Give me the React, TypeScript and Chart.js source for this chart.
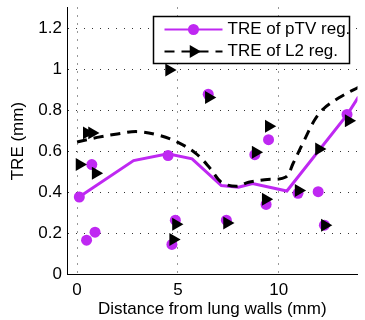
import React, { useEffect, useRef } from 'react';
import { Chart, registerables } from 'chart.js';

Chart.register(...registerables);

const PURPLE = 'rgb(191, 40, 242)';
const FONT = "'Liberation Sans', Arial, Helvetica, sans-serif";

// Line: TRE of pTV reg.
const pTVLineX = [0.1, 2.8, 4.5, 5.7, 7.15, 8.0, 8.7, 10.4, 13.4, 13.95];
const pTVLineY = [0.378, 0.555, 0.588, 0.564, 0.434, 0.426, 0.443, 0.407, 0.78, 0.865];

// Line: TRE of L2 reg. (smooth dashed)
const l2LineX = [0, 1, 2, 3, 4.1, 5, 5.9, 6.6, 7.15, 7.9, 8.5, 9.3, 10.35, 10.7, 11.25, 11.75, 12.2, 13.0, 13.95];
const l2LineY = [0.646, 0.668, 0.685, 0.696, 0.677, 0.644, 0.589, 0.517, 0.45, 0.43, 0.45, 0.462, 0.475, 0.54, 0.652, 0.749, 0.806, 0.862, 0.912];

// Scatter: pTV points
const pTVPtsX = [0.11, 0.73, 0.47, 0.89, 4.51, 4.87, 4.7, 6.5, 9.49, 8.81, 13.38, 9.37, 10.95, 11.95, 7.4, 12.26];
const pTVPtsY = [0.378, 0.536, 0.168, 0.207, 0.58, 0.265, 0.147, 0.878, 0.657, 0.584, 0.78, 0.342, 0.396, 0.404, 0.265, 0.241];

// Scatter: L2 points
const l2PtsX = [0.12, 0.92, 4.9, 4.76, 0.48, 0.74, 4.56, 6.53, 9.5, 8.85, 13.46, 11.99, 9.35, 10.98, 7.43, 12.28];
const l2PtsY = [0.536, 0.494, 0.245, 0.171, 0.69, 0.69, 0.996, 0.862, 0.722, 0.596, 0.749, 0.612, 0.367, 0.41, 0.252, 0.241];

const xTicks = [0, 5, 10];
const yTicks = [0, 0.2, 0.4, 0.6, 0.8, 1, 1.2];
const legendLabels = ['TRE of pTV reg.', 'TRE of L2 reg.'];

const zip = (xs: number[], ys: number[]) => xs.map((x, i) => ({ x, y: ys[i] }));

export default function App() {
  const ref = useRef<HTMLCanvasElement>(null);

  useEffect(() => {
    document.body.style.margin = '0';
    const legendPlugin = {
      id: 'boxLegend',
      afterDatasetsDraw(chart: any) {
        const ctx = chart.ctx as CanvasRenderingContext2D;
        const ca = chart.chartArea;
        const right = ca.right - 8;
        const left = right - 196;
        const top = ca.top + 9;
        const h = 47;
        ctx.save();
        ctx.fillStyle = '#fff';
        ctx.fillRect(left, top, right - left, h);
        const y1 = top + 13;
        const y2 = top + 35;
        const lx0 = left + 11;
        const lx1 = left + 69;
        const mx = left + 40;
        // row 1
        ctx.strokeStyle = PURPLE;
        ctx.lineWidth = 2;
        ctx.beginPath();
        ctx.moveTo(lx0, y1);
        ctx.lineTo(lx1, y1);
        ctx.stroke();
        ctx.fillStyle = PURPLE;
        ctx.beginPath();
        ctx.arc(mx, y1, 5.5, 0, Math.PI * 2);
        ctx.fill();
        // row 2
        ctx.strokeStyle = '#000';
        ctx.lineWidth = 2;
        ctx.setLineDash([10, 7]);
        ctx.beginPath();
        ctx.moveTo(lx0, y2);
        ctx.lineTo(lx1, y2);
        ctx.stroke();
        ctx.setLineDash([]);
        ctx.fillStyle = '#000';
        const r = 7.5;
        ctx.beginPath();
        ctx.moveTo(mx + r, y2);
        ctx.lineTo(mx - r / 2, y2 - r * Math.sqrt(3) / 2);
        ctx.lineTo(mx - r / 2, y2 + r * Math.sqrt(3) / 2);
        ctx.closePath();
        ctx.fill();
        // text (clipped by the box, as in the reference)
        ctx.save();
        ctx.beginPath();
        ctx.rect(left, top, right - left, h);
        ctx.clip();
        ctx.fillStyle = '#000';
        ctx.font = `17px ${FONT}`;
        ctx.textBaseline = 'middle';
        ctx.textAlign = 'left';
        ctx.fillText(legendLabels[0], left + 74, y1);
        ctx.fillText(legendLabels[1], left + 74, y2);
        ctx.restore();
        ctx.strokeStyle = '#000';
        ctx.lineWidth = 1.5;
        ctx.strokeRect(left, top, right - left, h);
        ctx.restore();
      },
    };

    const chart = new Chart(ref.current as HTMLCanvasElement, {
      type: 'scatter',
      data: {
        datasets: [
          {
            type: 'line',
            label: legendLabels[0],
            data: zip(pTVLineX, pTVLineY),
            borderColor: PURPLE,
            borderWidth: 3,
            pointRadius: 0,
            tension: 0,
            fill: false,
            order: 4,
          } as any,
          {
            type: 'line',
            label: legendLabels[1],
            data: zip(l2LineX, l2LineY),
            borderColor: '#000',
            borderWidth: 3,
            borderDash: [10, 7],
            pointRadius: 0,
            tension: 0.35,
            fill: false,
            order: 3,
          } as any,
          {
            label: 'pTV points',
            data: zip(pTVPtsX, pTVPtsY),
            showLine: false,
            pointStyle: 'circle',
            pointRadius: 5.5,
            pointBackgroundColor: PURPLE,
            pointBorderWidth: 0,
            order: 2,
          } as any,
          {
            label: 'L2 points',
            data: zip(l2PtsX, l2PtsY),
            showLine: false,
            pointStyle: 'triangle',
            rotation: 90,
            pointRotation: 90,
            pointRadius: 7.5,
            pointBackgroundColor: '#000',
            pointBorderWidth: 0,
            order: 1,
          } as any,
        ],
      },
      options: {
        responsive: false,
        animation: false,
        devicePixelRatio: 1,
        layout: { padding: { top: 6.25, right: 0, left: 0, bottom: 0 } },
        plugins: { legend: { display: false }, tooltip: { enabled: false } },
        scales: {
          x: {
            type: 'linear',
            min: -0.5,
            max: 13.9,
            afterBuildTicks: (s: any) => {
              s.ticks = xTicks.map((v) => ({ value: v }));
            },
            afterFit: (s: any) => {
              s.height = 45.3;
              s.paddingLeft = 0;
              s.paddingRight = 0;
            },
            ticks: {
              font: { family: FONT, size: 17 },
              color: '#000',
              padding: 5,
              maxRotation: 0,
              autoSkip: false,
              callback: (v: any) => String(v),
            },
            grid: { color: '#333', lineWidth: 1, drawTicks: false },
            border: { display: true, color: '#000', width: 1, dash: [1, 7] },
            title: {
              display: true,
              text: 'Distance from lung walls (mm)',
              font: { family: FONT, size: 17 },
              color: '#000',
              padding: { top: 0, bottom: 0 },
            },
          },
          y: {
            type: 'linear',
            min: 0,
            max: 1.3,
            afterBuildTicks: (s: any) => {
              s.ticks = yTicks.map((v) => ({ value: v }));
            },
            afterFit: (s: any) => {
              s.width = 67;
              s.paddingTop = 0;
              s.paddingBottom = 0;
            },
            ticks: {
              font: { family: FONT, size: 17 },
              color: '#000',
              padding: 5,
              autoSkip: false,
              callback: (v: any) => String(Math.round(v * 10) / 10),
            },
            grid: { color: '#333', lineWidth: 1, drawTicks: false },
            border: { display: true, color: '#000', width: 1, dash: [1, 7] },
            title: {
              display: true,
              text: 'TRE (mm)',
              font: { family: FONT, size: 17 },
              color: '#000',
              padding: { top: 8, bottom: 0 },
            },
          },
        },
      },
      plugins: [legendPlugin],
    } as any);
    return () => chart.destroy();
  }, []);

  return (
    <div style={{ width: 365, height: 320 }}>
      <canvas ref={ref} width={365} height={320} style={{ display: 'block' }} />
    </div>
  );
}
